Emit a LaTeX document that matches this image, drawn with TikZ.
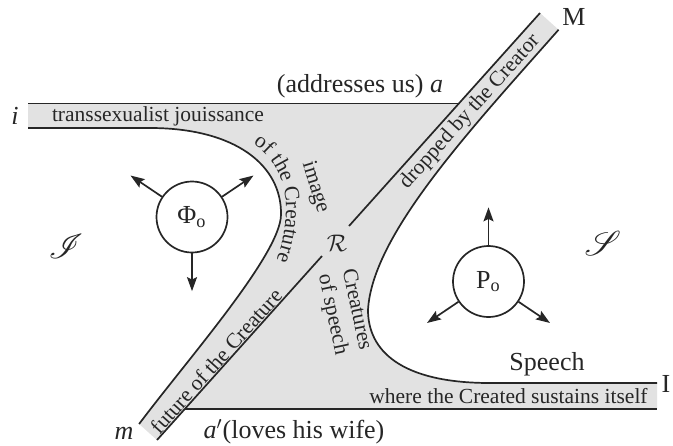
\documentclass[tikz,border=0pt]{standalone}
\usepackage{fontspec}
\setmainfont{Liberation Serif}
\usepackage{mathrsfs}
\usetikzlibrary{arrows.meta,calc,decorations.text}
\newcommand{\schemafont}{\fontsize{10.75}{12.2}\selectfont}
\newcommand{\bigschemafont}{\fontsize{13}{15}\selectfont}
\newcommand{\fieldfont}{\fontsize{16}{18}\selectfont}
\definecolor{inkc}{gray}{0.15}
\definecolor{fieldgray}{gray}{0.885}

\begin{document}
\begin{tikzpicture}[x=0.5pt,y=-0.5pt,
  ink/.style={draw=inkc,line width=0.85pt},
  lbl/.style={inner sep=0pt,text=inkc,font=\schemafont},
  biglbl/.style={inner sep=0pt,text=inkc,font=\bigschemafont},
  fieldlbl/.style={inner sep=0pt,text=inkc,font=\fieldfont},
  ring/.style={ink,circle,minimum size=35.5pt,inner sep=0pt,text=inkc,font=\bigschemafont},
  arr/.style={ink,-{Stealth[length=7pt,width=5pt,inset=1.2pt]}}]
\useasboundingbox (0,0) rectangle (673,445);

% key points of the schema
\coordinate (iTop) at (28,103.5);
\coordinate (iBot) at (28,128);
\coordinate (aMeet) at (458.8,103.5);
\coordinate (Mleft) at (540,13);
\coordinate (Mright) at (558.6,29.7);
\coordinate (Itop) at (657,383);
\coordinate (Ibot) at (657,409);
\coordinate (aPrimeMeet) at (184.8,409);
\coordinate (mRight) at (157,440);
\coordinate (mLeft) at (139.1,424);
\coordinate (gapTop) at (349,226);
\coordinate (gapBot) at (322,256);

% shaded field
\fill[fieldgray] (iTop) -- (aMeet) -- (Mleft) -- (Mright)
  .. controls (470,130) and (372,235) .. (368,310)
  .. controls (368,350) and (400,383) .. (490,383) -- (Itop) -- (Ibot)
  -- (aPrimeMeet) -- (mRight) -- (mLeft)
  .. controls (187,360) and (280,255) .. (281,215)
  .. controls (282,165) and (235,128) .. (150,128) -- (iBot) -- cycle;

% boundary lines
\draw[ink] (iTop) -- (aMeet);
\draw[ink] (Mleft) -- (gapTop);
\draw[ink] (gapBot) -- (mRight);
\draw[ink] (aPrimeMeet) -- (Ibot);
\draw[ink] (Mright) .. controls (470,130) and (372,235) .. (368,310)
  .. controls (368,350) and (400,383) .. (490,383) -- (Itop);
\draw[ink] (iBot) -- (150,128) .. controls (235,128) and (282,165) .. (281,215)
  .. controls (280,255) and (187,360) .. (mLeft);

% the two circles with their arrows
\node[ring] (phi) at (192,217) {Φ\textsubscript{o}};
\node[ring] (po) at (488.5,281.5) {P\textsubscript{o}};
\coordinate (phiA) at ($(phi.center)!2.04!(phi.146)$);
\coordinate (phiB) at ($(phi.center)!2.04!(phi.34)$);
\coordinate (phiC) at ($(phi.center)!2.04!(phi.270)$);
\draw[arr] (phi.146) -- (phiA);
\draw[arr] (phi.34) -- (phiB);
\draw[arr] (phi.270) -- (phiC);
\coordinate (poA) at ($(po.center)!2.04!(po.90)$);
\coordinate (poB) at ($(po.center)!2.04!(po.214)$);
\coordinate (poC) at ($(po.center)!2.04!(po.326)$);
\draw[arr] (po.90) -- (poA);
\draw[arr] (po.214) -- (poB);
\draw[arr] (po.326) -- (poC);

% labels
\node[biglbl] (li) at (15,116) {\textit{i}};
\node[lbl] (ltj) at (158,116) {transsexualist jouissance};
\node[biglbl] (laddr) at (360,86) {(addresses us) \textit{a}};
\node[biglbl] (lM) at (574,17) {M};
\node[lbl,rotate=48.1] (ldrop) at (470,112) {dropped by the Creator};
\node[lbl,rotate=48.1] (lfut) at (216,361) {future of the Creature};
\node[lbl,rotate=-73] (limg) at (315,187) {image};
\path[decorate,decoration={text along path,text color=inkc,
    text={|\schemafont|of the Creature},text align=center}]
  (222,133) .. controls (268,140) and (287,175) .. (286,212)
  .. controls (285,240) and (278,262) .. (262,290);
\node[lbl,rotate=-78,align=center] (lcs) at (344,312) {Creatures\\of speech};
\node[fieldlbl] (lI) at (66,246) {$\mathscr{I}$};
\node[biglbl] (lR) at (337,243) {$\mathcal{R}$};
\node[fieldlbl] (lS) at (603,243) {$\mathscr{S}$};
\node[biglbl] (lspeech) at (547,364) {Speech};
\node[biglbl] (lIr) at (666,384) {I};
\node[lbl,anchor=east] (lwhere) at (648,396) {where the Created sustains itself};
\node[biglbl] (lm) at (124,433) {\textit{m}};
\node[biglbl] (lwife) at (294,432) {\textit{a}$'$(loves his wife)};
\end{tikzpicture}
\end{document}
